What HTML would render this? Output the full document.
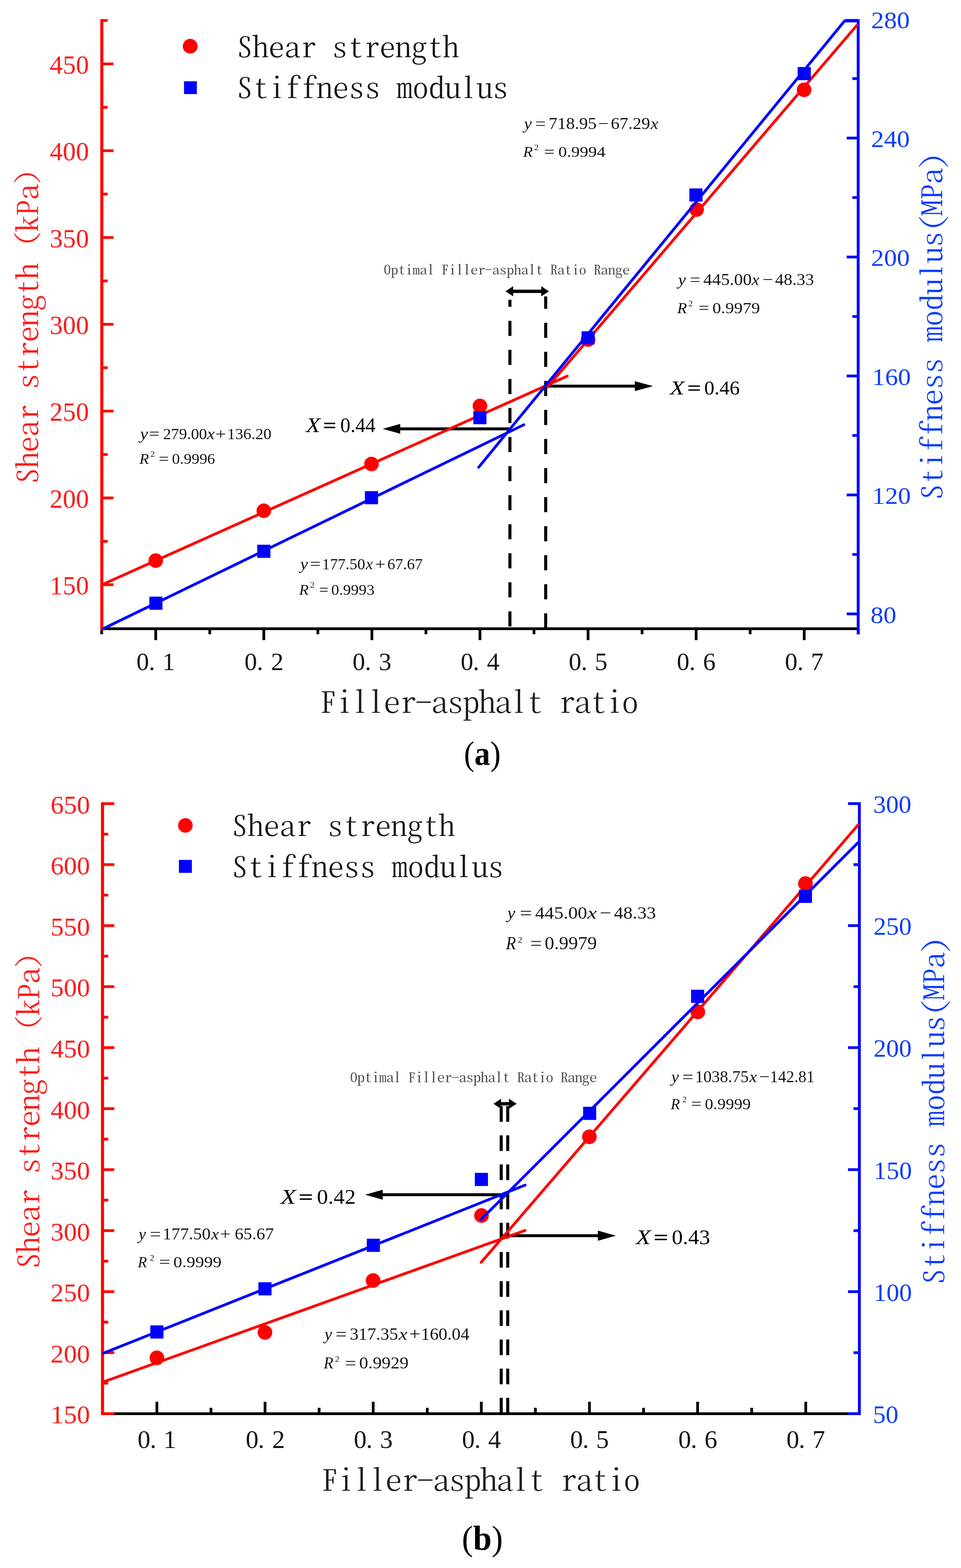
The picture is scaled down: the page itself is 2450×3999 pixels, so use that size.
<!DOCTYPE html>
<html><head><meta charset="utf-8"><title>Shear strength and stiffness modulus vs filler-asphalt ratio</title>
<style>html,body{margin:0;padding:0;background:#fff;} svg{display:block;}</style></head>
<body>
<svg xmlns="http://www.w3.org/2000/svg" width="2450" height="3999" viewBox="0 0 2450 3999">
<rect width="2450" height="3999" fill="#ffffff"/>
<line x1="256" y1="1603.5" x2="2188" y2="1603.5" stroke="#000000" stroke-width="7.0" stroke-linecap="butt"/>
<line x1="397" y1="1603.5" x2="397" y2="1632.5" stroke="#000000" stroke-width="7.0" stroke-linecap="butt"/>
<line x1="672.55" y1="1603.5" x2="672.55" y2="1632.5" stroke="#000000" stroke-width="7.0" stroke-linecap="butt"/>
<line x1="948.1" y1="1603.5" x2="948.1" y2="1632.5" stroke="#000000" stroke-width="7.0" stroke-linecap="butt"/>
<line x1="1223.65" y1="1603.5" x2="1223.65" y2="1632.5" stroke="#000000" stroke-width="7.0" stroke-linecap="butt"/>
<line x1="1499.2" y1="1603.5" x2="1499.2" y2="1632.5" stroke="#000000" stroke-width="7.0" stroke-linecap="butt"/>
<line x1="1774.75" y1="1603.5" x2="1774.75" y2="1632.5" stroke="#000000" stroke-width="7.0" stroke-linecap="butt"/>
<line x1="2050.3" y1="1603.5" x2="2050.3" y2="1632.5" stroke="#000000" stroke-width="7.0" stroke-linecap="butt"/>
<line x1="259.23" y1="1603.5" x2="259.23" y2="1617.5" stroke="#000000" stroke-width="7.0" stroke-linecap="butt"/>
<line x1="534.78" y1="1603.5" x2="534.78" y2="1617.5" stroke="#000000" stroke-width="7.0" stroke-linecap="butt"/>
<line x1="810.33" y1="1603.5" x2="810.33" y2="1617.5" stroke="#000000" stroke-width="7.0" stroke-linecap="butt"/>
<line x1="1085.88" y1="1603.5" x2="1085.88" y2="1617.5" stroke="#000000" stroke-width="7.0" stroke-linecap="butt"/>
<line x1="1361.42" y1="1603.5" x2="1361.42" y2="1617.5" stroke="#000000" stroke-width="7.0" stroke-linecap="butt"/>
<line x1="1636.98" y1="1603.5" x2="1636.98" y2="1617.5" stroke="#000000" stroke-width="7.0" stroke-linecap="butt"/>
<line x1="1912.53" y1="1603.5" x2="1912.53" y2="1617.5" stroke="#000000" stroke-width="7.0" stroke-linecap="butt"/>
<line x1="2188.07" y1="1603.5" x2="2188.07" y2="1617.5" stroke="#000000" stroke-width="7.0" stroke-linecap="butt"/>
<line x1="259.6" y1="48.8" x2="259.6" y2="1607" stroke="#ff0000" stroke-width="7.8" stroke-linecap="butt"/>
<line x1="259.6" y1="1491.25" x2="289.3" y2="1491.25" stroke="#ff0000" stroke-width="7.0" stroke-linecap="butt"/>
<line x1="259.6" y1="1269.88" x2="289.3" y2="1269.88" stroke="#ff0000" stroke-width="7.0" stroke-linecap="butt"/>
<line x1="259.6" y1="1048.5" x2="289.3" y2="1048.5" stroke="#ff0000" stroke-width="7.0" stroke-linecap="butt"/>
<line x1="259.6" y1="827.12" x2="289.3" y2="827.12" stroke="#ff0000" stroke-width="7.0" stroke-linecap="butt"/>
<line x1="259.6" y1="605.75" x2="289.3" y2="605.75" stroke="#ff0000" stroke-width="7.0" stroke-linecap="butt"/>
<line x1="259.6" y1="384.38" x2="289.3" y2="384.38" stroke="#ff0000" stroke-width="7.0" stroke-linecap="butt"/>
<line x1="259.6" y1="163" x2="289.3" y2="163" stroke="#ff0000" stroke-width="7.0" stroke-linecap="butt"/>
<line x1="259.6" y1="1380.56" x2="274.5" y2="1380.56" stroke="#ff0000" stroke-width="7.0" stroke-linecap="butt"/>
<line x1="259.6" y1="1159.19" x2="274.5" y2="1159.19" stroke="#ff0000" stroke-width="7.0" stroke-linecap="butt"/>
<line x1="259.6" y1="937.81" x2="274.5" y2="937.81" stroke="#ff0000" stroke-width="7.0" stroke-linecap="butt"/>
<line x1="259.6" y1="716.44" x2="274.5" y2="716.44" stroke="#ff0000" stroke-width="7.0" stroke-linecap="butt"/>
<line x1="259.6" y1="495.06" x2="274.5" y2="495.06" stroke="#ff0000" stroke-width="7.0" stroke-linecap="butt"/>
<line x1="259.6" y1="273.69" x2="274.5" y2="273.69" stroke="#ff0000" stroke-width="7.0" stroke-linecap="butt"/>
<line x1="259.6" y1="52.31" x2="274.5" y2="52.31" stroke="#ff0000" stroke-width="7.0" stroke-linecap="butt"/>
<line x1="2187.9" y1="49" x2="2187.9" y2="1618" stroke="#0000ff" stroke-width="7.3" stroke-linecap="butt"/>
<line x1="2187.9" y1="1565.7" x2="2158.5" y2="1565.7" stroke="#0000ff" stroke-width="7.0" stroke-linecap="butt"/>
<line x1="2187.9" y1="1262.3" x2="2158.5" y2="1262.3" stroke="#0000ff" stroke-width="7.0" stroke-linecap="butt"/>
<line x1="2187.9" y1="958.9" x2="2158.5" y2="958.9" stroke="#0000ff" stroke-width="7.0" stroke-linecap="butt"/>
<line x1="2187.9" y1="655.5" x2="2158.5" y2="655.5" stroke="#0000ff" stroke-width="7.0" stroke-linecap="butt"/>
<line x1="2187.9" y1="352.1" x2="2158.5" y2="352.1" stroke="#0000ff" stroke-width="7.0" stroke-linecap="butt"/>
<line x1="2187.9" y1="1414" x2="2173" y2="1414" stroke="#0000ff" stroke-width="7.0" stroke-linecap="butt"/>
<line x1="2187.9" y1="1110.6" x2="2173" y2="1110.6" stroke="#0000ff" stroke-width="7.0" stroke-linecap="butt"/>
<line x1="2187.9" y1="807.2" x2="2173" y2="807.2" stroke="#0000ff" stroke-width="7.0" stroke-linecap="butt"/>
<line x1="2187.9" y1="503.8" x2="2173" y2="503.8" stroke="#0000ff" stroke-width="7.0" stroke-linecap="butt"/>
<line x1="2187.9" y1="200.4" x2="2173" y2="200.4" stroke="#0000ff" stroke-width="7.0" stroke-linecap="butt"/>
<line x1="261.3" y1="3605.5" x2="2191" y2="3605.5" stroke="#000000" stroke-width="7.0" stroke-linecap="butt"/>
<line x1="400" y1="3605.5" x2="400" y2="3575" stroke="#000000" stroke-width="7.0" stroke-linecap="butt"/>
<line x1="675.7" y1="3605.5" x2="675.7" y2="3575" stroke="#000000" stroke-width="7.0" stroke-linecap="butt"/>
<line x1="951.4" y1="3605.5" x2="951.4" y2="3575" stroke="#000000" stroke-width="7.0" stroke-linecap="butt"/>
<line x1="1227.1" y1="3605.5" x2="1227.1" y2="3575" stroke="#000000" stroke-width="7.0" stroke-linecap="butt"/>
<line x1="1502.8" y1="3605.5" x2="1502.8" y2="3575" stroke="#000000" stroke-width="7.0" stroke-linecap="butt"/>
<line x1="1778.5" y1="3605.5" x2="1778.5" y2="3575" stroke="#000000" stroke-width="7.0" stroke-linecap="butt"/>
<line x1="2054.2" y1="3605.5" x2="2054.2" y2="3575" stroke="#000000" stroke-width="7.0" stroke-linecap="butt"/>
<line x1="537.85" y1="3605.5" x2="537.85" y2="3590.5" stroke="#000000" stroke-width="7.0" stroke-linecap="butt"/>
<line x1="813.55" y1="3605.5" x2="813.55" y2="3590.5" stroke="#000000" stroke-width="7.0" stroke-linecap="butt"/>
<line x1="1089.25" y1="3605.5" x2="1089.25" y2="3590.5" stroke="#000000" stroke-width="7.0" stroke-linecap="butt"/>
<line x1="1364.95" y1="3605.5" x2="1364.95" y2="3590.5" stroke="#000000" stroke-width="7.0" stroke-linecap="butt"/>
<line x1="1640.65" y1="3605.5" x2="1640.65" y2="3590.5" stroke="#000000" stroke-width="7.0" stroke-linecap="butt"/>
<line x1="1916.35" y1="3605.5" x2="1916.35" y2="3590.5" stroke="#000000" stroke-width="7.0" stroke-linecap="butt"/>
<line x1="261.3" y1="2046" x2="261.3" y2="3609" stroke="#ff0000" stroke-width="7.8" stroke-linecap="butt"/>
<line x1="261.3" y1="3605.35" x2="291.4" y2="3605.35" stroke="#ff0000" stroke-width="7.0" stroke-linecap="butt"/>
<line x1="261.3" y1="3449.77" x2="291.4" y2="3449.77" stroke="#ff0000" stroke-width="7.0" stroke-linecap="butt"/>
<line x1="261.3" y1="3294.2" x2="291.4" y2="3294.2" stroke="#ff0000" stroke-width="7.0" stroke-linecap="butt"/>
<line x1="261.3" y1="3138.62" x2="291.4" y2="3138.62" stroke="#ff0000" stroke-width="7.0" stroke-linecap="butt"/>
<line x1="261.3" y1="2983.05" x2="291.4" y2="2983.05" stroke="#ff0000" stroke-width="7.0" stroke-linecap="butt"/>
<line x1="261.3" y1="2827.47" x2="291.4" y2="2827.47" stroke="#ff0000" stroke-width="7.0" stroke-linecap="butt"/>
<line x1="261.3" y1="2671.9" x2="291.4" y2="2671.9" stroke="#ff0000" stroke-width="7.0" stroke-linecap="butt"/>
<line x1="261.3" y1="2516.32" x2="291.4" y2="2516.32" stroke="#ff0000" stroke-width="7.0" stroke-linecap="butt"/>
<line x1="261.3" y1="2360.75" x2="291.4" y2="2360.75" stroke="#ff0000" stroke-width="7.0" stroke-linecap="butt"/>
<line x1="261.3" y1="2205.17" x2="291.4" y2="2205.17" stroke="#ff0000" stroke-width="7.0" stroke-linecap="butt"/>
<line x1="261.3" y1="2049.6" x2="291.4" y2="2049.6" stroke="#ff0000" stroke-width="7.0" stroke-linecap="butt"/>
<line x1="261.3" y1="3527.56" x2="276" y2="3527.56" stroke="#ff0000" stroke-width="7.0" stroke-linecap="butt"/>
<line x1="261.3" y1="3371.99" x2="276" y2="3371.99" stroke="#ff0000" stroke-width="7.0" stroke-linecap="butt"/>
<line x1="261.3" y1="3216.41" x2="276" y2="3216.41" stroke="#ff0000" stroke-width="7.0" stroke-linecap="butt"/>
<line x1="261.3" y1="3060.84" x2="276" y2="3060.84" stroke="#ff0000" stroke-width="7.0" stroke-linecap="butt"/>
<line x1="261.3" y1="2905.26" x2="276" y2="2905.26" stroke="#ff0000" stroke-width="7.0" stroke-linecap="butt"/>
<line x1="261.3" y1="2749.69" x2="276" y2="2749.69" stroke="#ff0000" stroke-width="7.0" stroke-linecap="butt"/>
<line x1="261.3" y1="2594.11" x2="276" y2="2594.11" stroke="#ff0000" stroke-width="7.0" stroke-linecap="butt"/>
<line x1="261.3" y1="2438.54" x2="276" y2="2438.54" stroke="#ff0000" stroke-width="7.0" stroke-linecap="butt"/>
<line x1="261.3" y1="2282.96" x2="276" y2="2282.96" stroke="#ff0000" stroke-width="7.0" stroke-linecap="butt"/>
<line x1="261.3" y1="2127.39" x2="276" y2="2127.39" stroke="#ff0000" stroke-width="7.0" stroke-linecap="butt"/>
<line x1="2190.9" y1="2046" x2="2190.9" y2="3609" stroke="#0000ff" stroke-width="7.3" stroke-linecap="butt"/>
<line x1="2190.9" y1="3605.4" x2="2162" y2="3605.4" stroke="#0000ff" stroke-width="7.0" stroke-linecap="butt"/>
<line x1="2190.9" y1="3294.22" x2="2162" y2="3294.22" stroke="#0000ff" stroke-width="7.0" stroke-linecap="butt"/>
<line x1="2190.9" y1="2983.04" x2="2162" y2="2983.04" stroke="#0000ff" stroke-width="7.0" stroke-linecap="butt"/>
<line x1="2190.9" y1="2671.86" x2="2162" y2="2671.86" stroke="#0000ff" stroke-width="7.0" stroke-linecap="butt"/>
<line x1="2190.9" y1="2360.68" x2="2162" y2="2360.68" stroke="#0000ff" stroke-width="7.0" stroke-linecap="butt"/>
<line x1="2190.9" y1="2049.5" x2="2162" y2="2049.5" stroke="#0000ff" stroke-width="7.0" stroke-linecap="butt"/>
<line x1="2190.9" y1="3449.81" x2="2176" y2="3449.81" stroke="#0000ff" stroke-width="7.0" stroke-linecap="butt"/>
<line x1="2190.9" y1="3138.63" x2="2176" y2="3138.63" stroke="#0000ff" stroke-width="7.0" stroke-linecap="butt"/>
<line x1="2190.9" y1="2827.45" x2="2176" y2="2827.45" stroke="#0000ff" stroke-width="7.0" stroke-linecap="butt"/>
<line x1="2190.9" y1="2516.27" x2="2176" y2="2516.27" stroke="#0000ff" stroke-width="7.0" stroke-linecap="butt"/>
<line x1="2190.9" y1="2205.09" x2="2176" y2="2205.09" stroke="#0000ff" stroke-width="7.0" stroke-linecap="butt"/>
<path d="M1300,1597.7 V764.4" fill="none" stroke="#000000" stroke-width="7.8" stroke-linecap="butt" stroke-linejoin="round" stroke-dasharray="38.5 35.6"/>
<path d="M1391.2,1602.7 V756" fill="none" stroke="#000000" stroke-width="7.8" stroke-linecap="butt" stroke-linejoin="round" stroke-dasharray="38.5 35.6"/>
<line x1="1307.3" y1="742.9" x2="1380.8" y2="742.9" stroke="#000000" stroke-width="8.5" stroke-linecap="butt"/>
<polygon points="1288.6,742.9 1308.3,730.1 1308.3,755.7" fill="#000000"/>
<polygon points="1399.5,742.9 1379.8,730.1 1379.8,755.7" fill="#000000"/>
<line x1="1300" y1="1093.7" x2="1019.3" y2="1093.7" stroke="#000000" stroke-width="7.5" stroke-linecap="butt"/>
<polygon points="975.6,1093.7 1020.3,1081.2 1020.3,1106.2" fill="#000000"/>
<line x1="1391" y1="984.8" x2="1619.5" y2="984.8" stroke="#000000" stroke-width="7.5" stroke-linecap="butt"/>
<polygon points="1664.9,984.8 1618.5,972.2 1618.5,997.4" fill="#000000"/>
<path d="M1277.8,2821 V3605" fill="none" stroke="#000000" stroke-width="7.8" stroke-linecap="butt" stroke-linejoin="round" stroke-dasharray="40 34.4"/>
<path d="M1294.4,2821 V3605" fill="none" stroke="#000000" stroke-width="7.8" stroke-linecap="butt" stroke-linejoin="round" stroke-dasharray="40 34.4"/>
<g>
<line x1="1270" y1="2815" x2="1306" y2="2815" stroke="#000000" stroke-width="8.5" stroke-linecap="butt"/>
<polygon points="1258.2,2815 1277.4,2802.2 1277.4,2827.7" fill="#000000"/>
<polygon points="1317.2,2815 1297.6,2802.2 1297.6,2827.7" fill="#000000"/>
</g>
<line x1="1294.4" y1="3047" x2="974.7" y2="3047" stroke="#000000" stroke-width="7.5" stroke-linecap="butt"/>
<polygon points="931,3047 975.7,3034.3 975.7,3059.7" fill="#000000"/>
<line x1="1277.5" y1="3151.5" x2="1525.2" y2="3151.5" stroke="#000000" stroke-width="7.5" stroke-linecap="butt"/>
<polygon points="1569.9,3151.5 1524.2,3138.6 1524.2,3164.4" fill="#000000"/>
<path d="M262.5,1490.1 L1446.2,959.3" fill="none" stroke="#ff0000" stroke-width="7.0" stroke-linecap="round" stroke-linejoin="round"/>
<path d="M1396.5,986.6 L2185,63.9" fill="none" stroke="#ff0000" stroke-width="7.0" stroke-linecap="round" stroke-linejoin="round"/>
<circle cx="397" cy="1429.8" r="18.6" fill="#ff0000"/>
<circle cx="672.6" cy="1302.6" r="18.6" fill="#ff0000"/>
<circle cx="947" cy="1183.4" r="18.6" fill="#ff0000"/>
<circle cx="1223.6" cy="1035.3" r="18.6" fill="#ff0000"/>
<circle cx="1499.3" cy="866" r="18.6" fill="#ff0000"/>
<circle cx="1776" cy="534.4" r="18.6" fill="#ff0000"/>
<circle cx="2050" cy="229" r="18.6" fill="#ff0000"/>
<path d="M264,1603 L1335.4,1083.3" fill="none" stroke="#0000ff" stroke-width="7.0" stroke-linecap="round" stroke-linejoin="round"/>
<path d="M1220.3,1191.7 L2153.5,53 L2188,53" fill="none" stroke="#0000ff" stroke-width="7.0" stroke-linecap="round" stroke-linejoin="round"/>
<line x1="2156" y1="52.8" x2="2188" y2="52.8" stroke="#0000ff" stroke-width="8.6" stroke-linecap="butt"/>
<rect x="380.65" y="1521.65" width="33.5" height="33.5" fill="#0000ff"/>
<rect x="655.85" y="1389.25" width="33.5" height="33.5" fill="#0000ff"/>
<rect x="930.25" y="1252.55" width="33.5" height="33.5" fill="#0000ff"/>
<rect x="1206.75" y="1048.45" width="33.5" height="33.5" fill="#0000ff"/>
<rect x="1482.55" y="844.85" width="33.5" height="33.5" fill="#0000ff"/>
<rect x="1757.45" y="480.55" width="33.5" height="33.5" fill="#0000ff"/>
<rect x="2033.55" y="170.95" width="33.5" height="33.5" fill="#0000ff"/>
<path d="M264,3524.3 L1338.7,3138.0" fill="none" stroke="#ff0000" stroke-width="7.0" stroke-linecap="round" stroke-linejoin="round"/>
<path d="M1226.5,3219.6 L2187.5,2104" fill="none" stroke="#ff0000" stroke-width="7.0" stroke-linecap="round" stroke-linejoin="round"/>
<circle cx="400" cy="3463" r="18.7" fill="#ff0000"/>
<circle cx="675.5" cy="3398.2" r="18.7" fill="#ff0000"/>
<circle cx="951.2" cy="3265.9" r="18.7" fill="#ff0000"/>
<circle cx="1227.5" cy="3100" r="18.7" fill="#ff0000"/>
<circle cx="1502.6" cy="2899.3" r="18.7" fill="#ff0000"/>
<circle cx="1779" cy="2580.8" r="18.7" fill="#ff0000"/>
<circle cx="2053.4" cy="2253.4" r="18.7" fill="#ff0000"/>
<path d="M264,3451 L1338.7,3022.5" fill="none" stroke="#0000ff" stroke-width="7.0" stroke-linecap="round" stroke-linejoin="round"/>
<path d="M1226.5,3110 L2187.5,2149" fill="none" stroke="#0000ff" stroke-width="7.0" stroke-linecap="round" stroke-linejoin="round"/>
<rect x="383.25" y="3380.25" width="33.5" height="33.5" fill="#0000ff"/>
<rect x="658.75" y="3270.25" width="33.5" height="33.5" fill="#0000ff"/>
<rect x="935.05" y="3159.25" width="33.5" height="33.5" fill="#0000ff"/>
<rect x="1210.55" y="2991.25" width="33.5" height="33.5" fill="#0000ff"/>
<rect x="1486.55" y="2822.75" width="33.5" height="33.5" fill="#0000ff"/>
<rect x="1761.75" y="2524.25" width="33.5" height="33.5" fill="#0000ff"/>
<rect x="2036.65" y="2269.25" width="33.5" height="33.5" fill="#0000ff"/>
<circle cx="484.9" cy="117.9" r="18.9" fill="#ff0000"/>
<rect x="469.15" y="207.25" width="32.7" height="32.7" fill="#0000ff"/>
<circle cx="472.6" cy="2105.2" r="18.6" fill="#ff0000"/>
<rect x="456.1" y="2193.1" width="33" height="33" fill="#0000ff"/>
<text transform="translate(603.39 145.68) scale(0.8138 0.7077)" font-size="100" fill="#141414" style="font-family:'Noto Serif CJK SC',serif;font-weight:300;font-feature-settings:'hwid' 1;font-variant-ligatures:none;font-kerning:none;letter-spacing:-0.30px">Shear strength</text>
<text transform="translate(603.34 250.37) scale(0.8197 0.7128)" font-size="100" fill="#141414" style="font-family:'Noto Serif CJK SC',serif;font-weight:300;font-feature-settings:'hwid' 1;font-variant-ligatures:none;font-kerning:none;letter-spacing:-0.27px">Stiffness modulus</text>
<text transform="translate(590.71 2132.09) scale(0.8109 0.7051)" font-size="100" fill="#141414" style="font-family:'Noto Serif CJK SC',serif;font-weight:300;font-feature-settings:'hwid' 1;font-variant-ligatures:none;font-kerning:none;letter-spacing:0.11px">Shear strength</text>
<text transform="translate(590.64 2236.67) scale(0.8197 0.7128)" font-size="100" fill="#141414" style="font-family:'Noto Serif CJK SC',serif;font-weight:300;font-feature-settings:'hwid' 1;font-variant-ligatures:none;font-kerning:none;letter-spacing:-0.21px">Stiffness modulus</text>
<text transform="translate(815.78 1817.6) scale(0.8541 0.7427)" font-size="100" fill="#1c1c1c" style="font-family:'Noto Serif CJK SC',serif;font-weight:300;font-feature-settings:'hwid' 1;font-variant-ligatures:none;font-kerning:none;letter-spacing:-2.57px">Filler-asphalt ratio</text>
<text transform="translate(819.79 3802.4) scale(0.8510 0.7400)" font-size="100" fill="#1c1c1c" style="font-family:'Noto Serif CJK SC',serif;font-weight:300;font-feature-settings:'hwid' 1;font-variant-ligatures:none;font-kerning:none;letter-spacing:-2.37px">Filler-asphalt ratio</text>
<text transform="translate(96.85 1234.45) rotate(-90) scale(0.8315 0.7231)" font-size="100" fill="#ff1a1a" style="letter-spacing:-1.73px"><tspan style="font-family:'Noto Serif CJK SC',serif;font-weight:300;font-feature-settings:'hwid' 1;font-variant-ligatures:none;font-kerning:none">Shear strength</tspan><tspan style="font-family:'Noto Serif CJK SC',serif;font-weight:300;font-variant-ligatures:none;font-kerning:none">（</tspan><tspan style="font-family:'Noto Serif CJK SC',serif;font-weight:300;font-feature-settings:'hwid' 1;font-variant-ligatures:none;font-kerning:none">kPa</tspan><tspan style="font-family:'Noto Serif CJK SC',serif;font-weight:300;font-variant-ligatures:none;font-kerning:none">）</tspan></text>
<text transform="translate(99.64 3236.61) rotate(-90) scale(0.8389 0.7295)" font-size="100" fill="#ff1a1a" style="letter-spacing:-1.97px"><tspan style="font-family:'Noto Serif CJK SC',serif;font-weight:300;font-feature-settings:'hwid' 1;font-variant-ligatures:none;font-kerning:none">Shear strength</tspan><tspan style="font-family:'Noto Serif CJK SC',serif;font-weight:300;font-variant-ligatures:none;font-kerning:none">（</tspan><tspan style="font-family:'Noto Serif CJK SC',serif;font-weight:300;font-feature-settings:'hwid' 1;font-variant-ligatures:none;font-kerning:none">kPa</tspan><tspan style="font-family:'Noto Serif CJK SC',serif;font-weight:300;font-variant-ligatures:none;font-kerning:none">）</tspan></text>
<text transform="translate(2402.47 1275.47) rotate(-90) scale(0.8212 0.7141)" font-size="100" fill="#0a3cff" style="font-family:'Noto Serif CJK SC',serif;font-weight:300;font-feature-settings:'hwid' 1;font-variant-ligatures:none;font-kerning:none;letter-spacing:-0.93px">Stiffness modulus(MPa)</text>
<text transform="translate(2406.77 3276.56) rotate(-90) scale(0.8197 0.7128)" font-size="100" fill="#0a3cff" style="font-family:'Noto Serif CJK SC',serif;font-weight:300;font-feature-settings:'hwid' 1;font-variant-ligatures:none;font-kerning:none;letter-spacing:-0.78px">Stiffness modulus(MPa)</text>
<text transform="translate(978.02 700.05) scale(0.3760 0.3269)" font-size="100" fill="#484848" style="font-family:'Noto Serif CJK SC',serif;font-weight:400;font-feature-settings:'hwid' 1;font-variant-ligatures:none;font-kerning:none;letter-spacing:-0.92px">Optimal Filler-asphalt Ratio Range</text>
<text transform="translate(892.27 2759.73) scale(0.3863 0.3359)" font-size="100" fill="#484848" style="font-family:'Noto Serif CJK SC',serif;font-weight:400;font-feature-settings:'hwid' 1;font-variant-ligatures:none;font-kerning:none;letter-spacing:-2.11px">Optimal Filler-asphalt Ratio Range</text>
<text transform="translate(1182.79 1950.62) scale(0.8028 0.8656)" font-size="100" fill="#000000"><tspan style="font-family:'Liberation Serif',serif;font-kerning:none">(</tspan><tspan style="font-family:'Liberation Serif',serif;font-weight:bold;font-kerning:none">a</tspan><tspan style="font-family:'Liberation Serif',serif;font-kerning:none">)</tspan></text>
<text transform="translate(1177.49 3953.16) scale(0.8535 0.8878)" font-size="100" fill="#000000"><tspan style="font-family:'Liberation Serif',serif;font-kerning:none">(</tspan><tspan style="font-family:'Liberation Serif',serif;font-weight:bold;font-kerning:none">b</tspan><tspan style="font-family:'Liberation Serif',serif;font-kerning:none">)</tspan></text>
<text transform="translate(126.84 1516.11) scale(0.6655 0.6676)" font-size="100" fill="#ff1a1a" style="font-family:'Liberation Serif',serif;font-kerning:none">150</text>
<text transform="translate(126.84 1294.74) scale(0.6655 0.6676)" font-size="100" fill="#ff1a1a" style="font-family:'Liberation Serif',serif;font-kerning:none">200</text>
<text transform="translate(126.84 1073.36) scale(0.6655 0.6676)" font-size="100" fill="#ff1a1a" style="font-family:'Liberation Serif',serif;font-kerning:none">250</text>
<text transform="translate(126.84 851.99) scale(0.6655 0.6676)" font-size="100" fill="#ff1a1a" style="font-family:'Liberation Serif',serif;font-kerning:none">300</text>
<text transform="translate(126.84 630.61) scale(0.6655 0.6676)" font-size="100" fill="#ff1a1a" style="font-family:'Liberation Serif',serif;font-kerning:none">350</text>
<text transform="translate(126.84 409.24) scale(0.6655 0.6676)" font-size="100" fill="#ff1a1a" style="font-family:'Liberation Serif',serif;font-kerning:none">400</text>
<text transform="translate(126.84 187.86) scale(0.6655 0.6676)" font-size="100" fill="#ff1a1a" style="font-family:'Liberation Serif',serif;font-kerning:none">450</text>
<text transform="translate(128.92 3630.44) scale(0.6704 0.6529)" font-size="100" fill="#ff1a1a" style="font-family:'Liberation Serif',serif;font-kerning:none">150</text>
<text transform="translate(128.92 3474.87) scale(0.6704 0.6529)" font-size="100" fill="#ff1a1a" style="font-family:'Liberation Serif',serif;font-kerning:none">200</text>
<text transform="translate(128.92 3319.29) scale(0.6704 0.6529)" font-size="100" fill="#ff1a1a" style="font-family:'Liberation Serif',serif;font-kerning:none">250</text>
<text transform="translate(128.92 3163.72) scale(0.6704 0.6529)" font-size="100" fill="#ff1a1a" style="font-family:'Liberation Serif',serif;font-kerning:none">300</text>
<text transform="translate(128.92 3008.14) scale(0.6704 0.6529)" font-size="100" fill="#ff1a1a" style="font-family:'Liberation Serif',serif;font-kerning:none">350</text>
<text transform="translate(128.92 2852.57) scale(0.6704 0.6529)" font-size="100" fill="#ff1a1a" style="font-family:'Liberation Serif',serif;font-kerning:none">400</text>
<text transform="translate(128.92 2696.99) scale(0.6704 0.6529)" font-size="100" fill="#ff1a1a" style="font-family:'Liberation Serif',serif;font-kerning:none">450</text>
<text transform="translate(128.92 2541.42) scale(0.6704 0.6529)" font-size="100" fill="#ff1a1a" style="font-family:'Liberation Serif',serif;font-kerning:none">500</text>
<text transform="translate(128.92 2385.84) scale(0.6704 0.6529)" font-size="100" fill="#ff1a1a" style="font-family:'Liberation Serif',serif;font-kerning:none">550</text>
<text transform="translate(128.92 2230.27) scale(0.6704 0.6529)" font-size="100" fill="#ff1a1a" style="font-family:'Liberation Serif',serif;font-kerning:none">600</text>
<text transform="translate(128.92 2074.69) scale(0.6704 0.6529)" font-size="100" fill="#ff1a1a" style="font-family:'Liberation Serif',serif;font-kerning:none">650</text>
<text transform="translate(2219.37 1588.67) scale(0.6577 0.6147)" font-size="100" fill="#0a3cff" style="font-family:'Liberation Serif',serif;font-kerning:none">80</text>
<text transform="translate(2223.58 1285.27) scale(0.6577 0.6147)" font-size="100" fill="#0a3cff" style="font-family:'Liberation Serif',serif;font-kerning:none">120</text>
<text transform="translate(2223.58 981.87) scale(0.6577 0.6147)" font-size="100" fill="#0a3cff" style="font-family:'Liberation Serif',serif;font-kerning:none">160</text>
<text transform="translate(2220.87 678.47) scale(0.6577 0.6147)" font-size="100" fill="#0a3cff" style="font-family:'Liberation Serif',serif;font-kerning:none">200</text>
<text transform="translate(2220.87 375.07) scale(0.6577 0.6147)" font-size="100" fill="#0a3cff" style="font-family:'Liberation Serif',serif;font-kerning:none">240</text>
<text transform="translate(2220.87 71.67) scale(0.6577 0.6147)" font-size="100" fill="#0a3cff" style="font-family:'Liberation Serif',serif;font-kerning:none">280</text>
<text transform="translate(2225.61 3629.01) scale(0.6482 0.6441)" font-size="100" fill="#0a3cff" style="font-family:'Liberation Serif',serif;font-kerning:none">50</text>
<text transform="translate(2227.57 3317.83) scale(0.6482 0.6441)" font-size="100" fill="#0a3cff" style="font-family:'Liberation Serif',serif;font-kerning:none">100</text>
<text transform="translate(2227.57 3006.65) scale(0.6482 0.6441)" font-size="100" fill="#0a3cff" style="font-family:'Liberation Serif',serif;font-kerning:none">150</text>
<text transform="translate(2226.91 2695.47) scale(0.6482 0.6441)" font-size="100" fill="#0a3cff" style="font-family:'Liberation Serif',serif;font-kerning:none">200</text>
<text transform="translate(2226.91 2384.29) scale(0.6482 0.6441)" font-size="100" fill="#0a3cff" style="font-family:'Liberation Serif',serif;font-kerning:none">250</text>
<text transform="translate(2226.26 2073.11) scale(0.6482 0.6441)" font-size="100" fill="#0a3cff" style="font-family:'Liberation Serif',serif;font-kerning:none">300</text>
<text transform="translate(347.73 1708.51) scale(0.6426 0.6426)" font-size="100" fill="#141414" style="font-family:'Liberation Serif',serif;font-kerning:none"><tspan x="0">0</tspan><tspan x="49.0">.</tspan><tspan x="103.1">1</tspan></text>
<text transform="translate(350.69 3693.3) scale(0.6515 0.6515)" font-size="100" fill="#141414" style="font-family:'Liberation Serif',serif;font-kerning:none"><tspan x="0">0</tspan><tspan x="48.3">.</tspan><tspan x="101.4">1</tspan></text>
<text transform="translate(623.28 1708.51) scale(0.6426 0.6426)" font-size="100" fill="#141414" style="font-family:'Liberation Serif',serif;font-kerning:none"><tspan x="0">0</tspan><tspan x="49.0">.</tspan><tspan x="105.1">2</tspan></text>
<text transform="translate(626.39 3693.3) scale(0.6515 0.6515)" font-size="100" fill="#141414" style="font-family:'Liberation Serif',serif;font-kerning:none"><tspan x="0">0</tspan><tspan x="48.3">.</tspan><tspan x="103.4">2</tspan></text>
<text transform="translate(898.83 1708.51) scale(0.6426 0.6426)" font-size="100" fill="#141414" style="font-family:'Liberation Serif',serif;font-kerning:none"><tspan x="0">0</tspan><tspan x="49.0">.</tspan><tspan x="104.1">3</tspan></text>
<text transform="translate(902.09 3693.3) scale(0.6515 0.6515)" font-size="100" fill="#141414" style="font-family:'Liberation Serif',serif;font-kerning:none"><tspan x="0">0</tspan><tspan x="48.3">.</tspan><tspan x="102.4">3</tspan></text>
<text transform="translate(1174.38 1708.51) scale(0.6426 0.6426)" font-size="100" fill="#141414" style="font-family:'Liberation Serif',serif;font-kerning:none"><tspan x="0">0</tspan><tspan x="49.0">.</tspan><tspan x="104.1">4</tspan></text>
<text transform="translate(1177.79 3693.3) scale(0.6515 0.6515)" font-size="100" fill="#141414" style="font-family:'Liberation Serif',serif;font-kerning:none"><tspan x="0">0</tspan><tspan x="48.3">.</tspan><tspan x="102.4">4</tspan></text>
<text transform="translate(1449.93 1708.51) scale(0.6426 0.6426)" font-size="100" fill="#141414" style="font-family:'Liberation Serif',serif;font-kerning:none"><tspan x="0">0</tspan><tspan x="49.0">.</tspan><tspan x="103.6">5</tspan></text>
<text transform="translate(1453.49 3693.3) scale(0.6515 0.6515)" font-size="100" fill="#141414" style="font-family:'Liberation Serif',serif;font-kerning:none"><tspan x="0">0</tspan><tspan x="48.3">.</tspan><tspan x="101.9">5</tspan></text>
<text transform="translate(1725.48 1708.51) scale(0.6426 0.6426)" font-size="100" fill="#141414" style="font-family:'Liberation Serif',serif;font-kerning:none"><tspan x="0">0</tspan><tspan x="49.0">.</tspan><tspan x="104.1">6</tspan></text>
<text transform="translate(1729.19 3693.3) scale(0.6515 0.6515)" font-size="100" fill="#141414" style="font-family:'Liberation Serif',serif;font-kerning:none"><tspan x="0">0</tspan><tspan x="48.3">.</tspan><tspan x="102.4">6</tspan></text>
<text transform="translate(2001.03 1708.51) scale(0.6426 0.6426)" font-size="100" fill="#141414" style="font-family:'Liberation Serif',serif;font-kerning:none"><tspan x="0">0</tspan><tspan x="49.0">.</tspan><tspan x="103.1">7</tspan></text>
<text transform="translate(2004.89 3693.3) scale(0.6515 0.6515)" font-size="100" fill="#141414" style="font-family:'Liberation Serif',serif;font-kerning:none"><tspan x="0">0</tspan><tspan x="48.3">.</tspan><tspan x="101.4">7</tspan></text>
<text transform="translate(356.98 1119.51) scale(0.4604 0.3971)" font-size="100" fill="#141414" style="font-family:'Liberation Serif',serif;font-style:italic;font-kerning:none">y</text>
<text transform="translate(379.22 1119.51) scale(0.4963 0.3971)" font-size="100" fill="#141414" style="font-family:'Liberation Serif',serif;font-kerning:none">=</text>
<text transform="translate(415.77 1119.51) scale(0.4067 0.3971)" font-size="100" fill="#141414" style="font-family:'Liberation Serif',serif;font-kerning:none">279.00</text>
<text transform="translate(527.84 1119.51) scale(0.4400 0.3971)" font-size="100" fill="#141414" style="font-family:'Liberation Serif',serif;font-style:italic;font-kerning:none">x</text>
<text transform="translate(548.72 1119.51) scale(0.4963 0.3971)" font-size="100" fill="#141414" style="font-family:'Liberation Serif',serif;font-kerning:none">+</text>
<text transform="translate(579.31 1119.51) scale(0.4095 0.3971)" font-size="100" fill="#141414" style="font-family:'Liberation Serif',serif;font-kerning:none">136.20</text>
<text transform="translate(355.2 1183.16) scale(0.4034 0.3706)" font-size="100" fill="#141414" style="font-family:'Liberation Serif',serif;font-style:italic;font-kerning:none">R</text>
<text transform="translate(383.39 1165.38) scale(0.2268 0.2194)" font-size="100" fill="#141414" style="font-family:'Liberation Serif',serif;font-kerning:none">2</text>
<text transform="translate(404.48 1183.16) scale(0.4632 0.3706)" font-size="100" fill="#141414" style="font-family:'Liberation Serif',serif;font-kerning:none">=</text>
<text transform="translate(438.4 1183.16) scale(0.4000 0.3706)" font-size="100" fill="#141414" style="font-family:'Liberation Serif',serif;font-kerning:none">0.9996</text>
<text transform="translate(765.29 1452.18) scale(0.4491 0.4088)" font-size="100" fill="#141414" style="font-family:'Liberation Serif',serif;font-style:italic;font-kerning:none">y</text>
<text transform="translate(790.61 1452.18) scale(0.4787 0.4088)" font-size="100" fill="#141414" style="font-family:'Liberation Serif',serif;font-kerning:none">=</text>
<text transform="translate(821.21 1452.18) scale(0.3992 0.4088)" font-size="100" fill="#141414" style="font-family:'Liberation Serif',serif;font-kerning:none">177.50</text>
<text transform="translate(932.41 1452.18) scale(0.4133 0.4088)" font-size="100" fill="#141414" style="font-family:'Liberation Serif',serif;font-style:italic;font-kerning:none">x</text>
<text transform="translate(956.11 1452.18) scale(0.4787 0.4088)" font-size="100" fill="#141414" style="font-family:'Liberation Serif',serif;font-kerning:none">+</text>
<text transform="translate(987.4 1452.18) scale(0.4009 0.4088)" font-size="100" fill="#141414" style="font-family:'Liberation Serif',serif;font-kerning:none">67.67</text>
<text transform="translate(762.5 1517.12) scale(0.3983 0.3897)" font-size="100" fill="#141414" style="font-family:'Liberation Serif',serif;font-style:italic;font-kerning:none">R</text>
<text transform="translate(790.59 1499.38) scale(0.2268 0.2194)" font-size="100" fill="#141414" style="font-family:'Liberation Serif',serif;font-kerning:none">2</text>
<text transform="translate(813.38 1517.12) scale(0.4234 0.3897)" font-size="100" fill="#141414" style="font-family:'Liberation Serif',serif;font-kerning:none">=</text>
<text transform="translate(844.39 1517.12) scale(0.4015 0.3897)" font-size="100" fill="#141414" style="font-family:'Liberation Serif',serif;font-kerning:none">0.9993</text>
<text transform="translate(1336.05 328.77) scale(0.4434 0.4162)" font-size="100" fill="#141414" style="font-family:'Liberation Serif',serif;font-style:italic;font-kerning:none">y</text>
<text transform="translate(1364.61 328.77) scale(0.4787 0.4162)" font-size="100" fill="#141414" style="font-family:'Liberation Serif',serif;font-kerning:none">=</text>
<text transform="translate(1398.73 328.77) scale(0.4449 0.4162)" font-size="100" fill="#141414" style="font-family:'Liberation Serif',serif;font-kerning:none">718.95</text>
<text transform="translate(1524.81 328.77) scale(0.4787 0.4162)" font-size="100" fill="#141414" style="font-family:'Liberation Serif',serif;font-kerning:none">−</text>
<text transform="translate(1557.22 328.77) scale(0.4456 0.4162)" font-size="100" fill="#141414" style="font-family:'Liberation Serif',serif;font-kerning:none">67.29</text>
<text transform="translate(1658.74 328.77) scale(0.4422 0.4162)" font-size="100" fill="#141414" style="font-family:'Liberation Serif',serif;font-style:italic;font-kerning:none">x</text>
<text transform="translate(1333.8 400.32) scale(0.4017 0.3897)" font-size="100" fill="#141414" style="font-family:'Liberation Serif',serif;font-style:italic;font-kerning:none">R</text>
<text transform="translate(1362.09 382.58) scale(0.2268 0.2194)" font-size="100" fill="#141414" style="font-family:'Liberation Serif',serif;font-kerning:none">2</text>
<text transform="translate(1387.11 400.32) scale(0.4787 0.3897)" font-size="100" fill="#141414" style="font-family:'Liberation Serif',serif;font-kerning:none">=</text>
<text transform="translate(1423.45 400.32) scale(0.4367 0.3897)" font-size="100" fill="#141414" style="font-family:'Liberation Serif',serif;font-kerning:none">0.9994</text>
<text transform="translate(1728.79 727.44) scale(0.4491 0.4294)" font-size="100" fill="#141414" style="font-family:'Liberation Serif',serif;font-style:italic;font-kerning:none">y</text>
<text transform="translate(1758.51 727.44) scale(0.4787 0.4294)" font-size="100" fill="#141414" style="font-family:'Liberation Serif',serif;font-kerning:none">=</text>
<text transform="translate(1793.1 727.44) scale(0.4483 0.4294)" font-size="100" fill="#141414" style="font-family:'Liberation Serif',serif;font-kerning:none">445.00</text>
<text transform="translate(1916.34 727.44) scale(0.4422 0.4294)" font-size="100" fill="#141414" style="font-family:'Liberation Serif',serif;font-style:italic;font-kerning:none">x</text>
<text transform="translate(1944.01 727.44) scale(0.4787 0.4294)" font-size="100" fill="#141414" style="font-family:'Liberation Serif',serif;font-kerning:none">−</text>
<text transform="translate(1975.92 727.44) scale(0.4416 0.4294)" font-size="100" fill="#141414" style="font-family:'Liberation Serif',serif;font-kerning:none">48.33</text>
<text transform="translate(1726.5 798.98) scale(0.4068 0.4088)" font-size="100" fill="#141414" style="font-family:'Liberation Serif',serif;font-style:italic;font-kerning:none">R</text>
<text transform="translate(1755.09 781.28) scale(0.2268 0.2194)" font-size="100" fill="#141414" style="font-family:'Liberation Serif',serif;font-kerning:none">2</text>
<text transform="translate(1781 798.98) scale(0.4809 0.4088)" font-size="100" fill="#141414" style="font-family:'Liberation Serif',serif;font-kerning:none">=</text>
<text transform="translate(1816.13 798.98) scale(0.4416 0.4088)" font-size="100" fill="#141414" style="font-family:'Liberation Serif',serif;font-kerning:none">0.9979</text>
<text transform="translate(353.3 3160.84) scale(0.4245 0.4294)" font-size="100" fill="#141414" style="font-family:'Liberation Serif',serif;font-style:italic;font-kerning:none">y</text>
<text transform="translate(381.77 3160.84) scale(0.5064 0.4294)" font-size="100" fill="#141414" style="font-family:'Liberation Serif',serif;font-kerning:none">=</text>
<text transform="translate(414.69 3160.84) scale(0.4450 0.4294)" font-size="100" fill="#141414" style="font-family:'Liberation Serif',serif;font-kerning:none">177.50</text>
<text transform="translate(538.44 3160.84) scale(0.4400 0.4294)" font-size="100" fill="#141414" style="font-family:'Liberation Serif',serif;font-style:italic;font-kerning:none">x</text>
<text transform="translate(560.71 3160.84) scale(0.4787 0.4294)" font-size="100" fill="#141414" style="font-family:'Liberation Serif',serif;font-kerning:none">+</text>
<text transform="translate(598.43 3160.84) scale(0.4436 0.4294)" font-size="100" fill="#141414" style="font-family:'Liberation Serif',serif;font-kerning:none">65.67</text>
<text transform="translate(351.2 3232.38) scale(0.3814 0.4088)" font-size="100" fill="#141414" style="font-family:'Liberation Serif',serif;font-style:italic;font-kerning:none">R</text>
<text transform="translate(382.09 3214.68) scale(0.2268 0.2194)" font-size="100" fill="#141414" style="font-family:'Liberation Serif',serif;font-kerning:none">2</text>
<text transform="translate(405.56 3232.38) scale(0.5085 0.4088)" font-size="100" fill="#141414" style="font-family:'Liberation Serif',serif;font-kerning:none">=</text>
<text transform="translate(442.11 3232.38) scale(0.4464 0.4088)" font-size="100" fill="#141414" style="font-family:'Liberation Serif',serif;font-kerning:none">0.9999</text>
<text transform="translate(1293.37 2342.6) scale(0.4585 0.4485)" font-size="100" fill="#141414" style="font-family:'Liberation Serif',serif;font-style:italic;font-kerning:none">y</text>
<text transform="translate(1325 2342.6) scale(0.5607 0.4485)" font-size="100" fill="#141414" style="font-family:'Liberation Serif',serif;font-kerning:none">=</text>
<text transform="translate(1364.23 2342.6) scale(0.4825 0.4485)" font-size="100" fill="#141414" style="font-family:'Liberation Serif',serif;font-kerning:none">445.00</text>
<text transform="translate(1497.25 2342.6) scale(0.5511 0.4485)" font-size="100" fill="#141414" style="font-family:'Liberation Serif',serif;font-style:italic;font-kerning:none">x</text>
<text transform="translate(1528.86 2342.6) scale(0.5277 0.4485)" font-size="100" fill="#141414" style="font-family:'Liberation Serif',serif;font-kerning:none">−</text>
<text transform="translate(1565.25 2342.6) scale(0.4763 0.4485)" font-size="100" fill="#141414" style="font-family:'Liberation Serif',serif;font-kerning:none">48.33</text>
<text transform="translate(1289.7 2421.38) scale(0.4203 0.4618)" font-size="100" fill="#141414" style="font-family:'Liberation Serif',serif;font-style:italic;font-kerning:none">R</text>
<text transform="translate(1320.07 2403.78) scale(0.2317 0.2194)" font-size="100" fill="#141414" style="font-family:'Liberation Serif',serif;font-kerning:none">2</text>
<text transform="translate(1351.66 2421.38) scale(0.5277 0.4618)" font-size="100" fill="#141414" style="font-family:'Liberation Serif',serif;font-kerning:none">=</text>
<text transform="translate(1388.76 2421.38) scale(0.4839 0.4618)" font-size="100" fill="#141414" style="font-family:'Liberation Serif',serif;font-kerning:none">0.9979</text>
<text transform="translate(1711.49 2760.04) scale(0.4358 0.4279)" font-size="100" fill="#141414" style="font-family:'Liberation Serif',serif;font-style:italic;font-kerning:none">y</text>
<text transform="translate(1739.17 2760.04) scale(0.5064 0.4279)" font-size="100" fill="#141414" style="font-family:'Liberation Serif',serif;font-kerning:none">=</text>
<text transform="translate(1772.32 2760.04) scale(0.4202 0.4279)" font-size="100" fill="#141414" style="font-family:'Liberation Serif',serif;font-kerning:none">1038.75</text>
<text transform="translate(1910.34 2760.04) scale(0.4400 0.4279)" font-size="100" fill="#141414" style="font-family:'Liberation Serif',serif;font-style:italic;font-kerning:none">x</text>
<text transform="translate(1935.31 2760.04) scale(0.4787 0.4279)" font-size="100" fill="#141414" style="font-family:'Liberation Serif',serif;font-kerning:none">−</text>
<text transform="translate(1963.09 2760.04) scale(0.4127 0.4279)" font-size="100" fill="#141414" style="font-family:'Liberation Serif',serif;font-kerning:none">142.81</text>
<text transform="translate(1709.9 2828.98) scale(0.3814 0.4088)" font-size="100" fill="#141414" style="font-family:'Liberation Serif',serif;font-style:italic;font-kerning:none">R</text>
<text transform="translate(1739.39 2811.28) scale(0.2268 0.2194)" font-size="100" fill="#141414" style="font-family:'Liberation Serif',serif;font-kerning:none">2</text>
<text transform="translate(1761.81 2828.98) scale(0.4787 0.4088)" font-size="100" fill="#141414" style="font-family:'Liberation Serif',serif;font-kerning:none">=</text>
<text transform="translate(1796.89 2828.98) scale(0.4266 0.4088)" font-size="100" fill="#141414" style="font-family:'Liberation Serif',serif;font-kerning:none">0.9999</text>
<text transform="translate(827.3 3417.22) scale(0.4377 0.4382)" font-size="100" fill="#141414" style="font-family:'Liberation Serif',serif;font-style:italic;font-kerning:none">y</text>
<text transform="translate(855.56 3417.22) scale(0.5085 0.4382)" font-size="100" fill="#141414" style="font-family:'Liberation Serif',serif;font-kerning:none">=</text>
<text transform="translate(891.66 3417.22) scale(0.4481 0.4382)" font-size="100" fill="#141414" style="font-family:'Liberation Serif',serif;font-kerning:none">317.35</text>
<text transform="translate(1016.5 3417.22) scale(0.4978 0.4382)" font-size="100" fill="#141414" style="font-family:'Liberation Serif',serif;font-style:italic;font-kerning:none">x</text>
<text transform="translate(1043.37 3417.22) scale(0.5064 0.4382)" font-size="100" fill="#141414" style="font-family:'Liberation Serif',serif;font-kerning:none">+</text>
<text transform="translate(1073.15 3417.22) scale(0.4498 0.4382)" font-size="100" fill="#141414" style="font-family:'Liberation Serif',serif;font-kerning:none">160.04</text>
<text transform="translate(825.3 3490.27) scale(0.4017 0.4162)" font-size="100" fill="#141414" style="font-family:'Liberation Serif',serif;font-style:italic;font-kerning:none">R</text>
<text transform="translate(854.09 3472.58) scale(0.2268 0.2194)" font-size="100" fill="#141414" style="font-family:'Liberation Serif',serif;font-kerning:none">2</text>
<text transform="translate(879.47 3490.27) scale(0.5064 0.4162)" font-size="100" fill="#141414" style="font-family:'Liberation Serif',serif;font-kerning:none">=</text>
<text transform="translate(915.87 3490.27) scale(0.4577 0.4162)" font-size="100" fill="#141414" style="font-family:'Liberation Serif',serif;font-kerning:none">0.9929</text>
<text transform="translate(780.1 1102.16) scale(0.6015 0.5206)" font-size="100" fill="#000000" style="font-family:'Liberation Serif',serif;font-style:italic;font-kerning:none">X</text>
<text transform="translate(823.58 1102.16) scale(0.6043 0.5206)" font-size="100" fill="#000000" style="font-family:'Liberation Serif',serif;font-weight:bold;font-kerning:none">=</text>
<text transform="translate(867.86 1102.16) scale(0.5106 0.5206)" font-size="100" fill="#000000" style="font-family:'Liberation Serif',serif;font-kerning:none">0.44</text>
<text transform="translate(1707.84 1006.29) scale(0.6119 0.5074)" font-size="100" fill="#000000" style="font-family:'Liberation Serif',serif;font-style:italic;font-kerning:none">X</text>
<text transform="translate(1751.83 1006.29) scale(0.6342 0.5074)" font-size="100" fill="#000000" style="font-family:'Liberation Serif',serif;font-weight:bold;font-kerning:none">=</text>
<text transform="translate(1795.53 1006.29) scale(0.5167 0.5074)" font-size="100" fill="#000000" style="font-family:'Liberation Serif',serif;font-kerning:none">0.46</text>
<text transform="translate(715.33 3069.63) scale(0.6448 0.5353)" font-size="100" fill="#000000" style="font-family:'Liberation Serif',serif;font-style:italic;font-kerning:none">X</text>
<text transform="translate(760.77 3069.63) scale(0.6660 0.5353)" font-size="100" fill="#000000" style="font-family:'Liberation Serif',serif;font-weight:bold;font-kerning:none">=</text>
<text transform="translate(808.04 3069.63) scale(0.5651 0.5353)" font-size="100" fill="#000000" style="font-family:'Liberation Serif',serif;font-kerning:none">0.42</text>
<text transform="translate(1621.37 3173.12) scale(0.6224 0.5382)" font-size="100" fill="#000000" style="font-family:'Liberation Serif',serif;font-style:italic;font-kerning:none">X</text>
<text transform="translate(1665.84 3173.12) scale(0.6728 0.5382)" font-size="100" fill="#000000" style="font-family:'Liberation Serif',serif;font-weight:bold;font-kerning:none">=</text>
<text transform="translate(1712.66 3173.12) scale(0.5593 0.5382)" font-size="100" fill="#000000" style="font-family:'Liberation Serif',serif;font-kerning:none">0.43</text>
</svg>
</body></html>
